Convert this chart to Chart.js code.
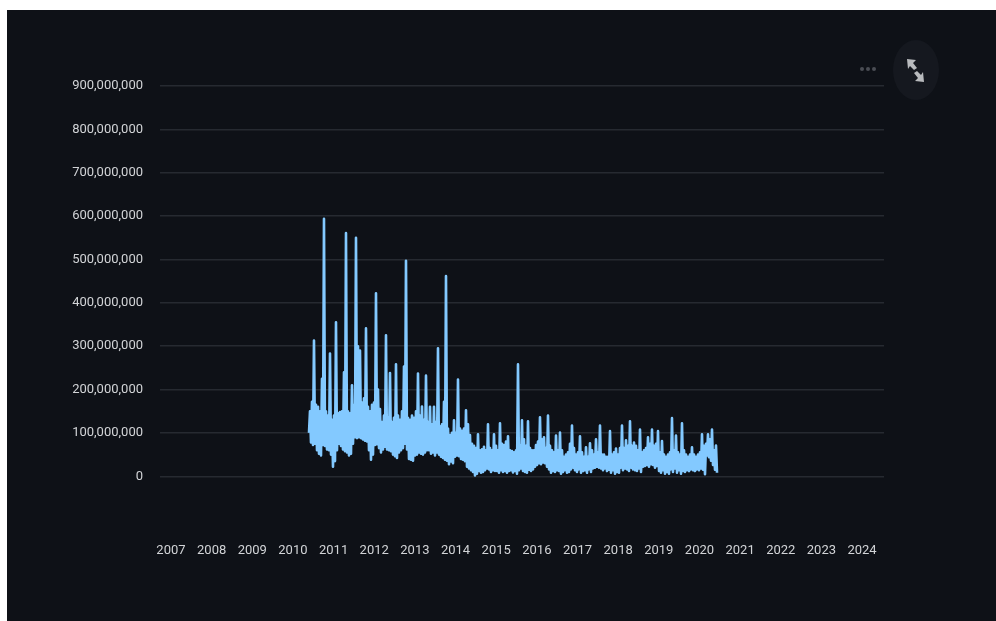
<!DOCTYPE html>
<html lang="en">
<head>
    <meta charset="UTF-8">
    <title>Volume</title>
    <script src="https://cdn.jsdelivr.net/npm/chart.js"></script>
    <style>
        html, body {
            margin: 0;
            background: #ffffff;
            overflow: hidden;
        }

        #panel {
            position: absolute;
            left: 7px;
            top: 10px;
            width: 989px;
            height: 611px;
            background: #0e1117;
        }

        canvas {
            display: block;
        }

        #icons {
            position: absolute;
            left: 0;
            top: 0;
        }
    </style>
</head>
<body>

    <div id="panel">
        <canvas id="myChart" width="989" height="611"></canvas>
    </div>

    <!-- toolbar icons top right -->
    <svg id="icons" width="996" height="130">
        <circle cx="862" cy="69" r="2" fill="#4a4d54"></circle>
        <circle cx="868" cy="69" r="2" fill="#4a4d54"></circle>
        <circle cx="874" cy="69" r="2" fill="#4a4d54"></circle>
        <ellipse cx="916" cy="70" rx="23" ry="30" fill="#15181f"></ellipse>
        <path d="M907 59 L916 60 L913 63 L917 68 L914 70 L910 66 L908 69 Z" fill="#b8babd"></path>
        <path d="M924 82 L915 81 L918 78 L914 73 L917 71 L921 75 L923 72 Z" fill="#b8babd"></path>
    </svg>

    <script>
        var yearTicks = [2007, 2008, 2009, 2010, 2011, 2012, 2013, 2014, 2015, 2016, 2017, 2018, 2019, 2020, 2021, 2022, 2023, 2024];
        var volumeTicks = [0, 100000000, 200000000, 300000000, 400000000, 500000000, 600000000, 700000000, 800000000, 900000000];

        // sampling of the series on the time axis
        var firstYear = 2010.395;
        var yearStep = 0.0246;

        // values in millions: tops and bottoms of the band
        var highs = [
            150, 172, 313, 165, 160, 150, 225, 594, 150, 140,
            283, 130, 140, 355, 145, 148, 150, 240, 561, 150,
            145, 210, 165, 550, 300, 290, 170, 180, 341, 160,
            150, 165, 170, 422, 200, 155, 125, 140, 325, 135,
            238, 125, 135, 258, 140, 130, 150, 253, 497, 135,
            130, 140, 135, 150, 237, 140, 161, 130, 232, 125,
            160, 120, 160, 125, 295, 115, 120, 172, 462, 110,
            95, 100, 129, 100, 223, 110, 105, 110, 152, 120,
            95, 75, 70, 65, 97, 60, 62, 68, 60, 120,
            65, 60, 97, 70, 60, 122, 75, 72, 80, 92,
            60, 58, 55, 60, 258, 70, 129, 85, 70, 127,
            65, 60, 60, 72, 80, 136, 85, 90, 65, 140,
            70, 60, 55, 94, 60, 101, 60, 45, 50, 55,
            75, 117, 65, 50, 55, 92, 55, 45, 67, 45,
            76, 60, 50, 85, 55, 117, 50, 50, 45, 45,
            104, 50, 55, 64, 50, 65, 117, 65, 83, 70,
            127, 70, 78, 70, 60, 108, 55, 60, 65, 90,
            75, 108, 70, 75, 104, 55, 81, 50, 45, 50,
            55, 134, 60, 94, 55, 50, 122, 60, 50, 45,
            50, 67, 50, 45, 50, 55, 97, 70, 75, 97,
            85, 108, 60, 71
        ];
        var lows = [
            100, 78, 72, 75, 60, 52, 48, 72, 70, 62,
            60, 50, 22, 35, 60, 75, 70, 62, 58, 55,
            48, 52, 75, 90, 88, 90, 88, 85, 82, 80,
            60, 38, 50, 72, 74, 65, 55, 62, 68, 62,
            60, 58, 50, 46, 42, 55, 60, 65, 75, 62,
            40, 38, 36, 48, 50, 55, 52, 50, 55, 60,
            60, 52, 55, 48, 55, 50, 45, 42, 38, 36,
            28, 34, 30, 45, 48, 46, 40, 38, 35, 22,
            18, 14, 10, 2, 6, 12, 8, 10, 14, 18,
            16, 10, 14, 12, 12, 8, 14, 10, 12, 8,
            12, 14, 9, 12, 6, 14, 18, 12, 10, 8,
            15, 12, 16, 22, 26, 30, 28, 32, 30, 22,
            16, 8, 12, 10, 14, 12, 6, 10, 14, 8,
            10, 16, 20, 14, 10, 16, 8, 12, 14, 8,
            16, 10, 18, 20, 22, 20, 18, 14, 18, 12,
            15, 8, 14, 6, 10, 8, 20, 14, 18, 16,
            12, 20, 16, 14, 12, 18, 10, 22, 24, 26,
            22, 28, 26, 20, 24, 12, 8, 14, 6, 10,
            6, 16, 10, 18, 8, 14, 6, 12, 10, 14,
            12, 16, 14, 12, 16, 14, 18, 15, 5, 48,
            44, 36, 26, 15, 8
        ];

        function buildPoints() {
            var points = [];
            for (var i = 0; i < lows.length; i++) {
                points.push({ x: firstYear + points.length * yearStep, y: lows[i] * 1000000 });
                if (i < highs.length) {
                    points.push({ x: firstYear + points.length * yearStep, y: highs[i] * 1000000 });
                }
            }
            return points;
        }

        var labelFont = { family: "Roboto, 'Noto Sans', sans-serif", size: 13 };

        var ctx = document.getElementById('myChart').getContext('2d');
        var myChart = new Chart(ctx, {
            type: 'line',
            data: {
                datasets: [{
                    data: buildPoints(),
                    borderColor: '#83c9ff',
                    borderWidth: 2.6,
                    borderJoinStyle: 'round',
                    pointRadius: 0,
                    tension: 0,
                    fill: false
                }]
            },
            options: {
                responsive: false,
                animation: false,
                layout: { padding: { top: 76, right: 112, bottom: 0, left: 0 } },
                plugins: {
                    legend: { display: false },
                    tooltip: { enabled: false }
                },
                scales: {
                    x: {
                        type: 'linear',
                        min: 2006.73,
                        max: 2024.54,
                        afterBuildTicks: function (axis) {
                            axis.ticks = yearTicks.map(function (y) { return { value: y }; });
                        },
                        afterFit: function (axis) { axis.height = 92.7; },
                        grid: { display: false },
                        border: { display: false },
                        ticks: {
                            autoSkip: false,
                            maxRotation: 0,
                            padding: 7,
                            color: '#d2d4d7',
                            font: labelFont,
                            callback: function (value) { return String(value); }
                        }
                    },
                    y: {
                        min: -120000000,
                        max: 900000000,
                        afterBuildTicks: function (axis) {
                            axis.ticks = volumeTicks.map(function (v) { return { value: v }; });
                        },
                        afterFit: function (axis) { axis.width = 153; },
                        grid: { color: '#262a31', lineWidth: 1.5, drawTicks: false },
                        border: { display: false },
                        ticks: {
                            autoSkip: false,
                            padding: 17,
                            color: '#d2d4d7',
                            font: labelFont,
                            callback: function (value) { return value.toLocaleString('en-US'); }
                        }
                    }
                }
            }
        });
    </script>

</body>
</html>
